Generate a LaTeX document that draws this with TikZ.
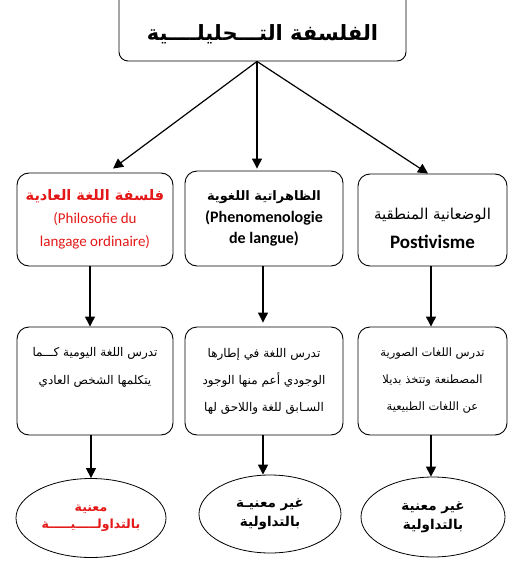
\documentclass[tikz,border=0pt]{standalone}
\usepackage{fontspec}
\setmainfont{Carlito}
\newfontfamily\arabicfont[Script=Arabic]{DejaVu Sans}
\TeXXeTstate=1
\usetikzlibrary{arrows.meta,shapes.geometric}
\definecolor{myred}{RGB}{228,24,24}
\newcommand\artxt[1]{{\arabicfont\beginR #1\endR}}
\begin{document}
\begin{tikzpicture}[x=1pt,y=-1pt,
  box/.style={draw, rounded corners=12pt, line width=0.9pt, align=center, inner sep=0pt},
  oval/.style={draw, ellipse, line width=0.8pt, align=center, inner sep=0pt},
  arr/.style={line width=1.2pt, -{Triangle[width=10pt,length=10pt]}}]
\useasboundingbox (0,0) rectangle (514,561);
\clip (0,0) rectangle (514,561);

% top
\node[box, rounded corners=9pt, minimum width=287pt, minimum height=75pt,
      font=\bfseries\fontsize{21}{24}\selectfont] (top) at (262.5,23.5)
  {\rule{0pt}{38pt}\artxt{الفلسفة التـــحليلــــية}};

% row 1
\node[box, minimum width=156pt, minimum height=93pt, text=myred,
      font=\fontsize{15}{23}\selectfont] (b1) at (95,219.5)
  {{\bfseries\fontsize{14.5}{23}\selectfont\artxt{فلسفة اللغة العادية}}\\(Philosofie du\\langage ordinaire)};
\node[box, minimum width=158pt, minimum height=95pt,
      font=\bfseries\fontsize{16}{21.5}\selectfont] (b2) at (264,218.5)
  {{\fontsize{13}{21.5}\selectfont\artxt{الظاهراتية اللغوية}}\\(Phenomenologie\\de langue)};
\node[box, minimum width=149pt, minimum height=92pt,
      font=\fontsize{19}{29}\selectfont] (b3) at (432.5,220)
  {\rule{0pt}{28pt}{\fontsize{15}{29}\selectfont\artxt{الوضعانية المنطقية}}\\\textbf{Postivisme}};

% row 2
\node[box, minimum width=156pt, minimum height=108pt,
      font=\fontsize{12}{28}\selectfont] (c1) at (95,381)
  {\artxt{تدرس اللغة اليومية كـــما}\\\artxt{يتكلمها الشخص العادي}\rule[-30pt]{0pt}{0pt}};
\node[box, minimum width=158pt, minimum height=108pt,
      font=\fontsize{12}{27}\selectfont] (c2) at (264,381)
  {\artxt{تدرس اللغة في إطارها}\\\artxt{الوجودي أعم منها الوجود}\\\artxt{السـابق للغة واللاحق لها}};
\node[box, minimum width=149pt, minimum height=108pt,
      font=\fontsize{11.5}{27}\selectfont] (c3) at (432.5,381)
  {\artxt{تدرس اللغات الصورية}\\\artxt{المصطنعة وتتخذ بديلا}\\\artxt{عن اللغات الطبيعية}};

% ellipses
\node[oval, minimum width=150pt, minimum height=79pt, text=myred,
      font=\bfseries\fontsize{12.5}{17}\selectfont] (e1) at (91,518)
  {\artxt{معنية}\\\artxt{بالتداولـــــيـــــة}};
\node[oval, minimum width=142pt, minimum height=78pt,
      font=\bfseries\fontsize{13.5}{19}\selectfont] (e2) at (270,514)
  {\artxt{غير معنيـة}\\\artxt{بالتداولية}};
\node[oval, minimum width=144pt, minimum height=80pt,
      font=\bfseries\fontsize{13.5}{19}\selectfont] (e3) at (433,517)
  {\artxt{غير معنية}\\\artxt{بالتداولية}};

% connectors
\draw[arr] ([xshift=-5.5pt]top.south) -- ([xshift=18pt,yshift=4pt]b1.north);
\draw[arr] ([xshift=-5.5pt]top.south) -- ([xshift=-7pt,yshift=2pt]b2.north);
\draw[arr] ([xshift=-5.5pt]top.south) -- ([xshift=-4.5pt]b3.north);

\draw[arr] ([xshift=-5pt]b1.south) -- ([xshift=-5pt]c1.north);
\draw[arr] ([xshift=-1pt]b2.south) -- ([xshift=-1pt,yshift=4pt]c2.north);
\draw[arr] ([xshift=-1.5pt]b3.south) -- ([xshift=-1.5pt]c3.north);

\draw[arr] ([xshift=-4pt]c1.south) -- (e1.north);
\draw[arr] ([xshift=-1pt]c2.south) -- ([xshift=-7pt]e2.north);
\draw[arr] ([xshift=-1.5pt]c3.south) -- ([xshift=-2pt]e3.north);
\end{tikzpicture}
\end{document}
